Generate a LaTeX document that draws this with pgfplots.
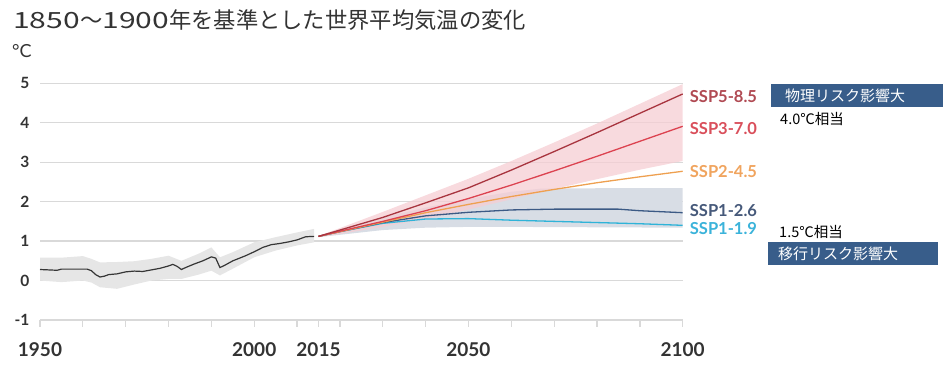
\documentclass[border=0pt]{standalone}
\usepackage{fontspec}
\setmainfont{Lato}
\newfontfamily\jp{Noto Sans CJK JP}
\usepackage{pgfplots}
\pgfplotsset{compat=1.18}
\usepgfplotslibrary{fillbetween}
\definecolor{gridgray}{HTML}{D9D9D9}
\definecolor{labelgray}{HTML}{333333}
\definecolor{histline}{HTML}{363636}
\definecolor{histband}{HTML}{E6E6E6}
\definecolor{c585}{HTML}{A8353F}
\definecolor{c370}{HTML}{DC4350}
\definecolor{c245}{HTML}{EEA050}
\definecolor{c126}{HTML}{3C5A85}
\definecolor{c119}{HTML}{2FB3D8}
\definecolor{l585}{HTML}{B04A53}
\definecolor{l370}{HTML}{D94F5B}
\definecolor{l245}{HTML}{F0A45E}
\definecolor{l126}{HTML}{46597A}
\definecolor{l119}{HTML}{3BB3DA}
\definecolor{pinkband}{HTML}{F6CDD3}
\definecolor{grayband}{HTML}{D8DDE5}
\definecolor{boxblue}{HTML}{385D8A}
\begin{document}
\begin{tikzpicture}
\path (0,0) rectangle (945bp,370bp);
\begin{axis}[
  at={(40bp,50bp)}, anchor=south west,
  scale only axis, width=642.7bp, height=236.7bp,
  xmin=1950, xmax=2100, ymin=-1, ymax=5,
  axis x line=bottom, axis y line=left,
  x axis line style={draw=gridgray, line width=1.3bp, -},
  y axis line style={draw=none},
  ytick={-1,0,1,2,3,4,5},
  ymajorgrids, grid style={gridgray, line width=1.3bp},
  xtick={1950,2000,2015,2050,2100},
  extra x ticks={1960,1970,1980,1990,2010,2020,2030,2040,2060,2070,2080,2090},
  extra x tick labels={},
  tick align=outside,
  major tick length=7bp,
  xtick style={draw=gridgray, line width=1.3bp},
  extra x tick style={xtick style={draw=gridgray, line width=1.3bp}},
  ytick style={draw=none},
  /pgf/number format/assume math mode=true,
  /pgf/number format/1000 sep={},
  xticklabel style={font=\bfseries\fontsize{19bp}{19bp}\selectfont, text=labelgray, yshift=-12bp},
  yticklabel style={font=\bfseries\fontsize{15.5bp}{15.5bp}\selectfont, text=labelgray},
  clip=false,
]
% historical band
\addplot[name path=hu, draw=none, forget plot] coordinates {
(1950,0.58) (1955,0.58) (1960,0.62) (1962,0.55) (1964,0.46) (1968,0.47) (1972,0.49)
(1976,0.55) (1980,0.63) (1983,0.50) (1987,0.68) (1990,0.84) (1992,0.59) (1995,0.72)
(2000,0.97) (2005,1.10) (2010,1.22) (2014,1.31)};
\addplot[name path=hl, draw=none, forget plot] coordinates {
(1950,0.00) (1955,-0.04) (1960,0.00) (1962,-0.05) (1964,-0.17) (1968,-0.21) (1972,-0.10)
(1976,0.00) (1980,0.04) (1983,0.04) (1987,0.15) (1990,0.25) (1992,0.13) (1995,0.30)
(2000,0.59) (2005,0.76) (2010,0.89) (2014,0.97)};
\addplot[histband, forget plot] fill between[of=hu and hl];
% SSP1 band
\addplot[name path=gu, draw=none, forget plot] coordinates {
(2015,1.13) (2020,1.30) (2030,1.60) (2040,1.85) (2050,2.07) (2060,2.25) (2067,2.33) (2080,2.34) (2100,2.34)};
\addplot[name path=gl, draw=none, forget plot] coordinates {
(2015,1.10) (2020,1.16) (2030,1.28) (2040,1.34) (2050,1.36) (2060,1.36) (2080,1.35) (2100,1.34)};
\addplot[grayband, forget plot] fill between[of=gu and gl];
% SSP5 band
\addplot[name path=pu, draw=none, forget plot] coordinates {
(2015,1.13) (2020,1.33) (2030,1.74) (2040,2.16) (2050,2.58) (2060,3.03) (2070,3.50) (2080,3.98) (2090,4.48) (2100,4.98)};
\addplot[name path=pl, draw=none, forget plot] coordinates {
(2015,1.10) (2020,1.18) (2030,1.36) (2040,1.56) (2050,1.80) (2060,2.06) (2070,2.32) (2080,2.57) (2090,2.81) (2100,3.03)};
\addplot[pinkband, fill opacity=0.75, forget plot] fill between[of=pu and pl];
% historical line
\addplot[histline, line width=1.2bp] coordinates {
(1950,0.28) (1952,0.27) (1954,0.26) (1955,0.29) (1958,0.29) (1961,0.29) (1962,0.25)
(1963,0.15) (1964,0.09) (1965,0.11) (1966,0.15) (1968,0.17) (1970,0.22) (1972,0.24)
(1974,0.23) (1976,0.27) (1978,0.31) (1980,0.37) (1981,0.41) (1982,0.36) (1983,0.28)
(1984,0.33) (1986,0.42) (1988,0.50) (1990,0.60) (1991,0.57) (1992,0.33) (1993,0.38)
(1995,0.50) (1998,0.63) (2000,0.73) (2002,0.84) (2004,0.91) (2006,0.94) (2008,0.98)
(2010,1.03) (2012,1.11) (2014,1.12)};
% scenarios
\addplot[c119, line width=1.3bp] coordinates {
(2015,1.12) (2020,1.24) (2030,1.45) (2040,1.56) (2050,1.57) (2060,1.53) (2070,1.50) (2080,1.47) (2090,1.44) (2100,1.40)};
\addplot[c126, line width=1.3bp] coordinates {
(2015,1.12) (2020,1.24) (2030,1.47) (2040,1.64) (2050,1.73) (2060,1.79) (2070,1.81) (2080,1.81) (2085,1.81) (2090,1.77) (2100,1.72)};
\addplot[c245, line width=1.3bp] coordinates {
(2015,1.12) (2020,1.24) (2030,1.48) (2040,1.72) (2050,1.93) (2060,2.13) (2070,2.31) (2080,2.48) (2090,2.63) (2100,2.77)};
\addplot[c370, line width=1.3bp] coordinates {
(2015,1.12) (2020,1.25) (2030,1.50) (2040,1.77) (2050,2.08) (2060,2.42) (2070,2.78) (2080,3.15) (2090,3.53) (2100,3.91)};
\addplot[c585, line width=1.3bp] coordinates {
(2015,1.12) (2020,1.28) (2030,1.60) (2040,1.97) (2050,2.35) (2060,2.80) (2070,3.27) (2080,3.75) (2090,4.24) (2100,4.73)};
% labels
\begin{scope}[every node/.style={anchor=west, inner sep=0pt, xshift=7bp, font=\bfseries\fontsize{16.5bp}{16.5bp}\selectfont}]
\node[text=l585] at (axis cs:2100,4.66) {SSP5-8.5};
\node[text=l370] at (axis cs:2100,3.85) {SSP3-7.0};
\node[text=l245] at (axis cs:2100,2.76) {SSP2-4.5};
\node[text=l126] at (axis cs:2100,1.77) {SSP1-2.6};
\node[text=l119] at (axis cs:2100,1.32) {SSP1-1.9};
\end{scope}
\end{axis}
% title and unit
\node[anchor=west, inner sep=0pt, text=labelgray, font=\jp\fontsize{22.3bp}{22.3bp}\selectfont] at (13bp,350bp) {{\addfontfeature{FakeStretch=1.35}1850}～{\addfontfeature{FakeStretch=1.35}1900}年を基準とした世界平均気温の変化};
\node[anchor=west, inner sep=0pt, text=labelgray, font=\fontsize{18bp}{18bp}\selectfont] at (12bp,319bp) {°C};
% annotation boxes
\fill[boxblue] (771bp,262.5bp) rectangle (943bp,286bp);
\node[anchor=west, inner sep=0pt, text=white, font=\jp\fontsize{15bp}{15bp}\selectfont] at (785bp,274.25bp) {物理リスク影響大};
\node[anchor=west, inner sep=0pt, text=black, font=\jp\fontsize{14.5bp}{14.5bp}\selectfont] at (780bp,251.5bp) {4.0℃相当};
\node[anchor=west, inner sep=0pt, text=black, font=\jp\fontsize{14.5bp}{14.5bp}\selectfont] at (779bp,138.3bp) {1.5℃相当};
\fill[boxblue] (768bp,105bp) rectangle (938bp,128.3bp);
\node[anchor=west, inner sep=0pt, text=white, font=\jp\fontsize{15bp}{15bp}\selectfont] at (778bp,116.65bp) {移行リスク影響大};
\end{tikzpicture}
\end{document}
